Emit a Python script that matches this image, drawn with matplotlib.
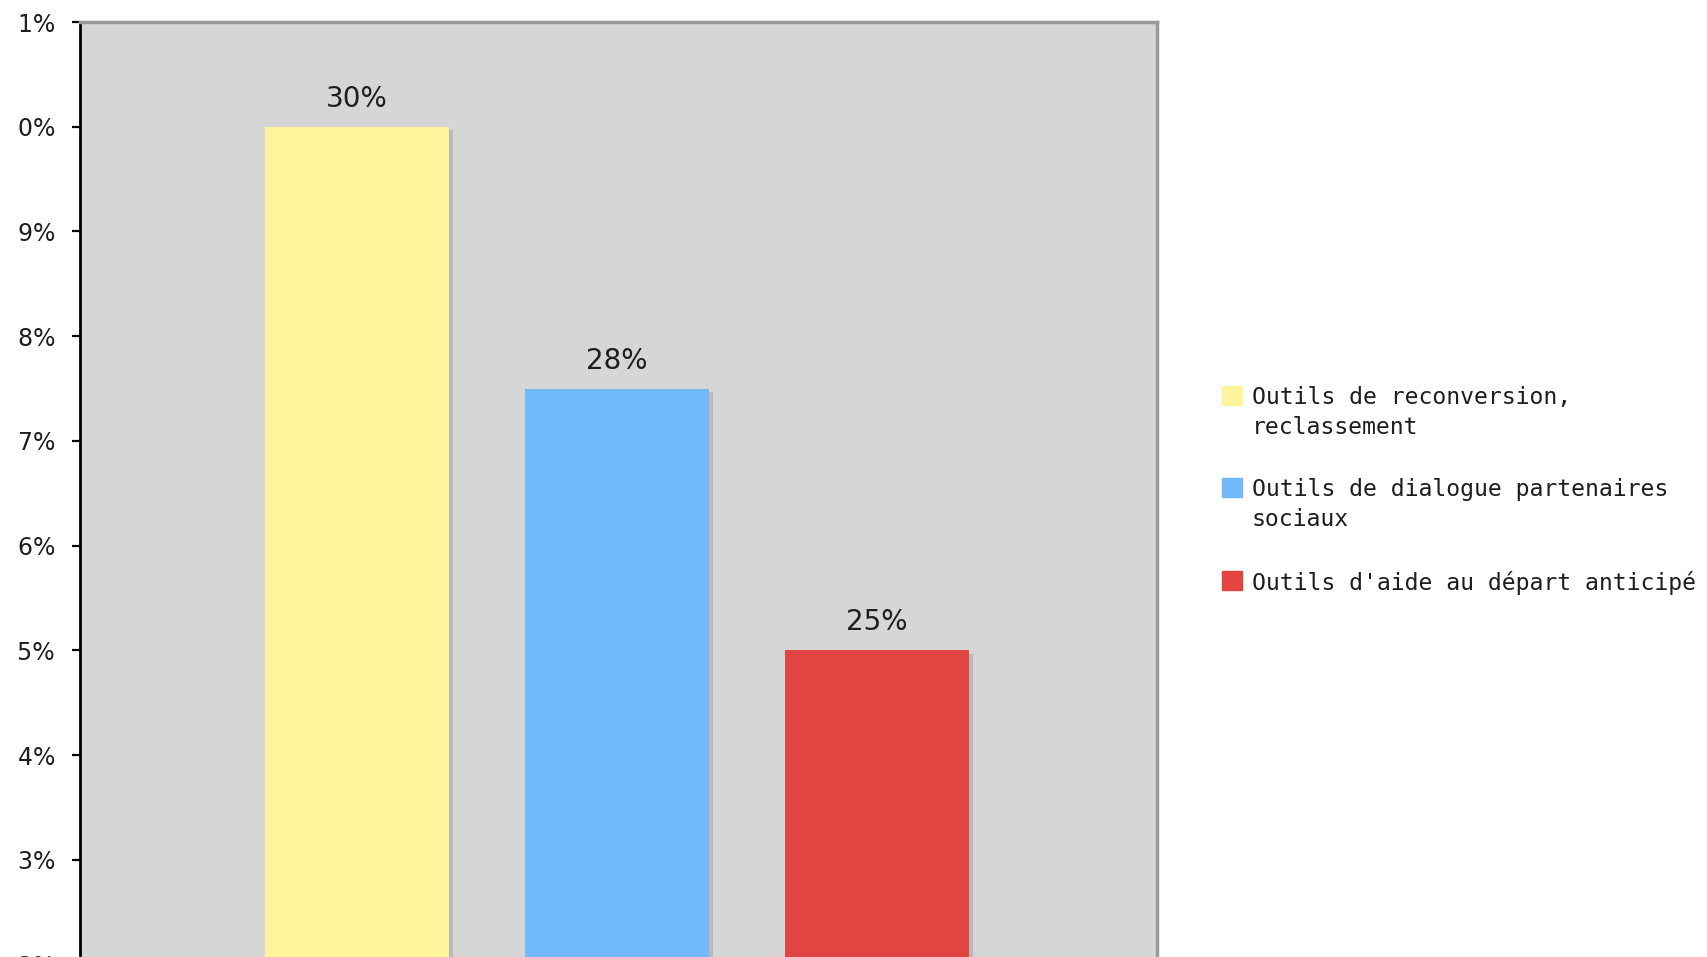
import matplotlib
matplotlib.use("Agg")
import matplotlib.pyplot as plt
from matplotlib.patches import Rectangle
from matplotlib.transforms import Bbox, TransformedBbox
import numpy as np

categories = ["Outils de reconversion,\nreclassement",
              "Outils de dialogue partenaires\nsociaux",
              "Outils d'aide au départ anticipé"]
values = [30, 27.5, 25]
colors = ["#fff39b", "#71b9f9", "#e24441"]
ytick_vals = list(range(22, 32))
ytick_labels = [f"{v}%" for v in ytick_vals]

W, H = 1708, 957
fig = plt.figure(figsize=(W / 100, H / 100), dpi=100)
fig.patch.set_facecolor("white")

# plot area: top-left corner at (80, 22) px, runs off the bottom of the canvas
ax = fig.add_axes([80 / W, 1 - 22 / H - 1152 / H, 1077 / W, 1152 / H])
ax.set_facecolor("#d6d6d6")
ax.set_xlim(-1.065, 3.077)
ax.set_ylim(20, 31)

x = np.arange(len(values))
vals = np.array(values)

# soft drop shadow to the right of each bar
ax.bar(x + 0.013, vals - 0.03, width=0.71, color="#bababa", zorder=1)
bars = ax.bar(x, vals, width=0.71, color=colors, zorder=2)
ax.bar_label(bars, labels=[f"{v:.0f}%" for v in values], padding=10,
             fontsize=20, color="#1e1e1e")

ax.set_xticks([])
ax.set_yticks(ytick_vals, ytick_labels)
ax.tick_params(axis="y", direction="out", length=5.8, width=1.6, color="black",
               labelsize=17, labelcolor="#1e1e1e", pad=12)

for side in ["top", "right"]:
    ax.spines[side].set_color("#9a9a9a")
    ax.spines[side].set_linewidth(2.5)
ax.spines["left"].set_color("black")
ax.spines["left"].set_linewidth(2)
ax.spines["bottom"].set_visible(False)

# the leading digit of each y label falls outside the visible strip
clip = TransformedBbox(Bbox.from_extents(17.5 / W, 0, 1, 1), fig.transFigure)
for lbl in ax.get_yticklabels():
    lbl.set_clip_box(clip)
    lbl.set_clip_on(True)

# legend on the right, swatch aligned with the first text line
leg_top = [386, 478, 571]
for label, col, top in zip(categories, colors, leg_top):
    fig.patches.append(Rectangle((1222 / W, 1 - (top + 19) / H), 20 / W, 19 / H,
                                 transform=fig.transFigure, color=col))
    fig.text(1252 / W, 1 - top / H, label, fontsize=16.7, color="#1e1e1e",
             family="DejaVu Sans Mono", va="top", ha="left",
             linespacing=1.4)

fig.savefig("out.png", dpi=100)
